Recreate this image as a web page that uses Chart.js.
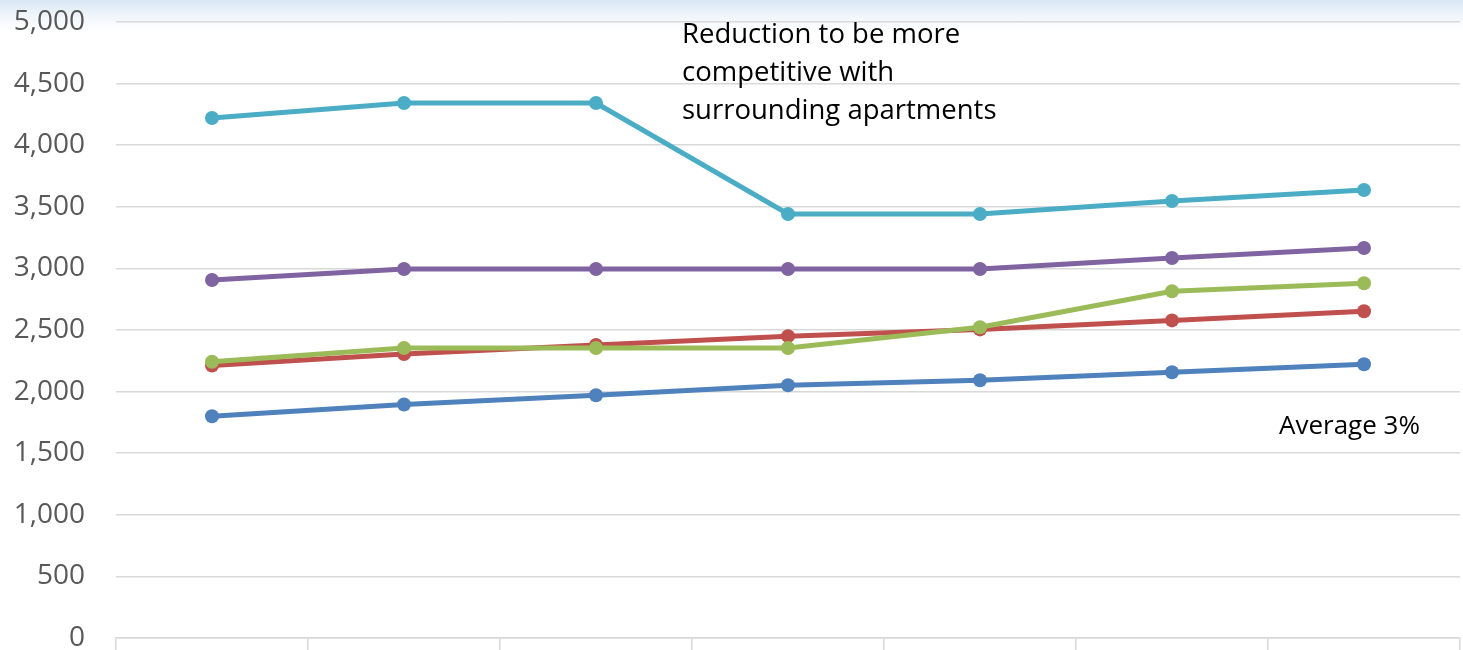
<!DOCTYPE html>
<html>
<head>
<meta charset="utf-8">
<script src="https://cdn.jsdelivr.net/npm/chart.js@4.4.1/dist/chart.umd.min.js"></script>
<style>
    html, body { margin: 0; padding: 0; overflow: hidden; }
    body {
        width: 1463px;
        height: 650px;
        background: linear-gradient(to bottom, #d9e7f4 0px, #eef4fa 14px, #ffffff 30px);
    }
    #wrap { position: relative; width: 1463px; height: 650px; }
    canvas { display: block; }
</style>
</head>
<body>
<div id="wrap"><canvas id="rentChart"></canvas></div>
<script>
// categories (no labels shown on the axis in the source)
const categories = ['1', '2', '3', '4', '5', '6', '7'];

// series values
const blueSeries   = [1800, 1895, 1970, 2052, 2092, 2157, 2222];
const redSeries    = [2212, 2305, 2378, 2450, 2505, 2578, 2652];
const greenSeries  = [2242, 2354, 2354, 2354, 2522, 2815, 2880];
const purpleSeries = [2906, 2995, 2995, 2995, 2995, 3084, 3166];
const cyanSeries   = [4221, 4342, 4342, 3442, 3442, 3547, 3636];

const yTicks = [0, 500, 1000, 1500, 2000, 2500, 3000, 3500, 4000, 4500, 5000];

const noteLines = ['Reduction to be more', 'competitive with', 'surrounding apartments'];
const avgNote = 'Average 3%';

const textFont = '"Open Sans", "Liberation Sans", sans-serif';

function series(data, color, order) {
    return {
        data: data,
        borderColor: color,
        backgroundColor: color,
        pointBackgroundColor: color,
        pointBorderColor: color,
        borderWidth: 5,
        pointRadius: 7,
        pointBorderWidth: 0,
        tension: 0,
        fill: false,
        order: order
    };
}

// draws the two free text notes over the plot
const notesPlugin = {
    id: 'notes',
    afterDraw(chart) {
        const ctx = chart.ctx;
        ctx.save();
        ctx.fillStyle = '#000000';
        ctx.textBaseline = 'middle';
        ctx.textAlign = 'left';
        ctx.font = '27.5px ' + textFont;
        noteLines.forEach((line, i) => {
            ctx.fillText(line, 682, 35 + i * 38);
        });
        ctx.font = '26px ' + textFont;
        ctx.fillText(avgNote, 1279, 427);
        ctx.restore();
    }
};

const ctx = document.getElementById('rentChart').getContext('2d');
const chart = new Chart(ctx, {
    type: 'line',
    data: {
        labels: categories,
        datasets: [
            series(blueSeries, '#4f81bd', 5),
            series(redSeries, '#c0504d', 4),
            series(greenSeries, '#9bbb59', 3),
            series(purpleSeries, '#8064a2', 2),
            series(cyanSeries, '#4bacc6', 1)
        ]
    },
    options: {
        responsive: true,
        maintainAspectRatio: false,
        animation: false,
        layout: {
            autoPadding: false,
            padding: { top: 0, right: 3, bottom: 0, left: 0 }
        },
        plugins: {
            legend: { display: false },
            tooltip: { enabled: false }
        },
        scales: {
            x: {
                offset: true,
                afterFit: (scale) => {
                    scale.height = 12;
                    scale.paddingRight = 0;
                    scale.paddingLeft = 0;
                },
                border: { display: true, color: '#d9d9d9', width: 1.5 },
                grid: {
                    offset: true,
                    drawOnChartArea: false,
                    drawTicks: true,
                    tickLength: 12,
                    color: '#d9d9d9',
                    lineWidth: 1.5
                },
                ticks: { display: false }
            },
            y: {
                min: 0,
                max: 5000,
                afterBuildTicks: (scale) => {
                    scale.ticks = yTicks.map(v => ({ value: v }));
                },
                afterFit: (scale) => {
                    scale.width = 116;
                    scale.paddingTop = 22;
                    scale.paddingBottom = 0;
                },
                border: { display: false },
                grid: { color: '#d9d9d9', lineWidth: 1.5, drawTicks: false },
                ticks: {
                    padding: 31,
                    color: '#595959',
                    font: { family: textFont, size: 28 },
                    callback: (v) => v.toLocaleString('en-US')
                }
            }
        }
    },
    plugins: [notesPlugin]
});
</script>
</body>
</html>
